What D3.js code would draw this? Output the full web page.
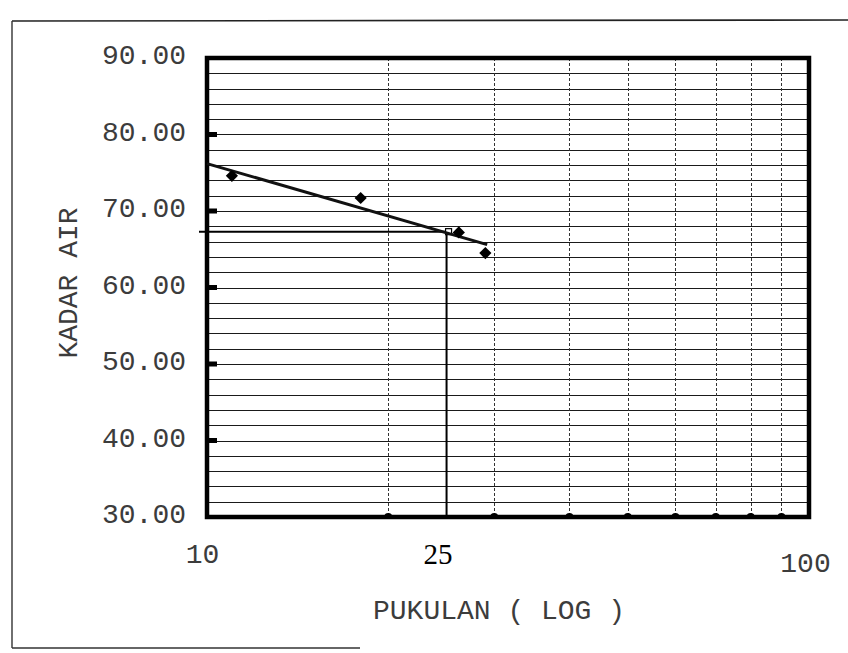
<!DOCTYPE html>
<html>
<head>
<meta charset="utf-8">
<script src="https://cdn.jsdelivr.net/npm/d3@7/dist/d3.min.js"></script>
<style>
  html, body { margin: 0; padding: 0; background: #fff; }
  svg { display: block; }
</style>
</head>
<body>
<svg id="chart" width="848" height="653"></svg>
<script>
// ---- data ----
const blows = [11.0, 18.0, 26.2, 29.0];
const moisture = [74.6, 71.7, 67.2, 64.5];
const trendBlows = [10, 29.2];
const trendMoisture = [76.2, 65.6];
const llBlows = 25;
const llMoisture = 67.3;
const xTickValues = [10, 25, 100];
const xTickLabels = ["10", "25", "100"];
const yTickValues = [30, 40, 50, 60, 70, 80, 90];
const xGridValues = [20, 30, 40, 50, 60, 70, 80, 90];
const yGridValues = [32, 34, 36, 38, 40, 42, 44, 46, 48, 50, 52, 54, 56, 58, 60, 62, 64, 66, 68, 70, 72, 74, 76, 78, 80, 82, 84, 86, 88];
const xTitle = "PUKULAN ( LOG )";
const yTitle = "KADAR AIR";

// ---- layout ----
const svg = d3.select("#chart");
const L = 207, R = 809, T = 58, B = 517;
const x = d3.scaleLog().domain([10, 100]).range([L, R]);
const y = d3.scaleLinear().domain([30, 90]).range([B, T]);
const mono = "'Liberation Mono', 'DejaVu Sans Mono', monospace";
const textFill = "#3c3c3c";

// outer frame (partial, as scanned)
svg.append("line").attr("x1", 12).attr("x2", 848).attr("y1", 21).attr("y2", 20)
  .attr("stroke", "#222").attr("stroke-width", 1.6);
svg.append("line").attr("x1", 12).attr("x2", 12).attr("y1", 21).attr("y2", 648)
  .attr("stroke", "#333").attr("stroke-width", 1.4);
svg.append("line").attr("x1", 12).attr("x2", 360).attr("y1", 648).attr("y2", 648)
  .attr("stroke", "#333").attr("stroke-width", 1.6);

// horizontal grid
svg.append("g").selectAll("line").data(yGridValues).join("line")
  .attr("x1", L).attr("x2", R)
  .attr("y1", d => Math.round(y(d)) + 0.5).attr("y2", d => Math.round(y(d)) + 0.5)
  .attr("stroke", "#1a1a1a").attr("stroke-width", 1.2);

// vertical grid (dotted)
svg.append("g").selectAll("line").data(xGridValues).join("line")
  .attr("x1", d => Math.round(x(d)) + 0.5).attr("x2", d => Math.round(x(d)) + 0.5)
  .attr("y1", T).attr("y2", B)
  .attr("stroke", "#333").attr("stroke-width", 1)
  .attr("stroke-dasharray", "3,2");

// bottom tick bumps
svg.append("g").selectAll("path").data(xGridValues).join("path")
  .attr("d", d => `M${x(d) - 4},${B} A4,4 0 0 1 ${x(d) + 4},${B} Z`)
  .attr("fill", "#000");

// left tabs
svg.append("g").selectAll("rect").data(yTickValues.slice(1, -1)).join("rect")
  .attr("x", L + 1).attr("y", d => y(d) - 2.5).attr("width", 9).attr("height", 5)
  .attr("fill", "#000");

// liquid limit construction lines
svg.append("line")
  .attr("x1", L - 8).attr("x2", x(llBlows))
  .attr("y1", y(llMoisture)).attr("y2", y(llMoisture))
  .attr("stroke", "#000").attr("stroke-width", 2);
svg.append("line")
  .attr("x1", x(llBlows)).attr("x2", x(llBlows))
  .attr("y1", y(llMoisture)).attr("y2", B)
  .attr("stroke", "#000").attr("stroke-width", 2);
svg.append("rect")
  .attr("x", x(llBlows) - 1).attr("y", y(llMoisture) - 3)
  .attr("width", 6).attr("height", 6)
  .attr("fill", "#fff").attr("stroke", "#000").attr("stroke-width", 1.2);

// plot frame
svg.append("rect").attr("x", L).attr("y", T).attr("width", R - L).attr("height", B - T)
  .attr("fill", "none").attr("stroke", "#000").attr("stroke-width", 4.5);

// trend line
svg.append("line")
  .attr("x1", x(trendBlows[0])).attr("y1", y(trendMoisture[0]))
  .attr("x2", x(trendBlows[1])).attr("y2", y(trendMoisture[1]))
  .attr("stroke", "#111").attr("stroke-width", 3);

// data points
svg.append("g").selectAll("path").data(blows.map((b, i) => [b, moisture[i]])).join("path")
  .attr("transform", d => `translate(${x(d[0])},${y(d[1])})`)
  .attr("d", d3.symbol(d3.symbolDiamond2, 95))
  .attr("fill", "#000");

// y axis labels
const yAxis = svg.append("g").attr("transform", `translate(${L},-3)`)
  .call(d3.axisLeft(y).tickValues(yTickValues).tickFormat(d3.format(".2f")).tickSize(0).tickPadding(21));
yAxis.select(".domain").remove();
yAxis.selectAll("line").remove();
yAxis.selectAll("text").attr("font-family", mono).attr("font-size", 28).attr("fill", textFill);

// x axis labels
const xAxis = svg.append("g").attr("transform", `translate(0,${B})`)
  .call(d3.axisBottom(x).tickValues(xTickValues).tickFormat((d, i) => xTickLabels[i]).tickSize(0).tickPadding(26));
xAxis.select(".domain").remove();
xAxis.selectAll("line").remove();
xAxis.selectAll("text").attr("font-family", mono).attr("font-size", 28).attr("fill", textFill);
xAxis.selectAll(".tick").filter(d => d === 25).select("text")
  .attr("font-family", "'Liberation Serif', 'Times New Roman', serif")
  .attr("font-size", 29).attr("fill", "#000").attr("dx", -9);
xAxis.selectAll(".tick").filter(d => d === 100).select("text")
  .attr("dx", -4).attr("dy", "1.05em");
xAxis.selectAll(".tick").filter(d => d === 10).select("text").attr("dx", -5);

// titles
svg.append("text").attr("x", 499).attr("y", 619).attr("text-anchor", "middle")
  .attr("font-family", mono).attr("font-size", 28).attr("fill", textFill).text(xTitle);
svg.append("text").attr("transform", "translate(77,283) rotate(-90)").attr("text-anchor", "middle")
  .attr("font-family", mono).attr("font-size", 28).attr("fill", textFill).text(yTitle);
</script>
</body>
</html>
